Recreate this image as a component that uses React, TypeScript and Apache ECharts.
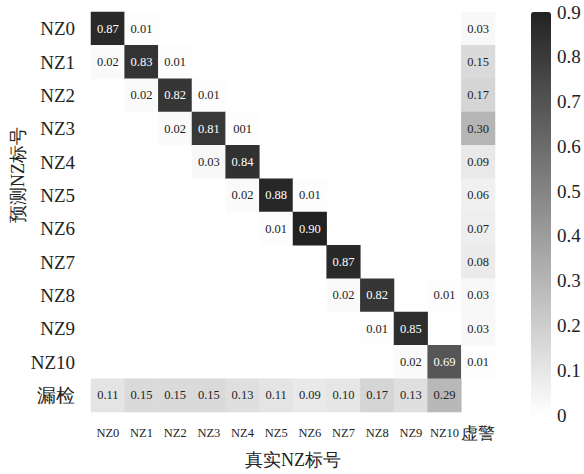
import React, { useEffect, useRef } from "react";
import * as echarts from "echarts";

const trueLabels = ["NZ0", "NZ1", "NZ2", "NZ3", "NZ4", "NZ5", "NZ6", "NZ7", "NZ8", "NZ9", "NZ10", "虚警"];
const predLabels = ["NZ0", "NZ1", "NZ2", "NZ3", "NZ4", "NZ5", "NZ6", "NZ7", "NZ8", "NZ9", "NZ10", "漏检"];

// rows: predicted; columns: true (last column = 虚警)
const rowNZ0 = [0.87, 0.01, null, null, null, null, null, null, null, null, null, 0.03];
const rowNZ1 = [0.02, 0.83, 0.01, null, null, null, null, null, null, null, null, 0.15];
const rowNZ2 = [null, 0.02, 0.82, 0.01, null, null, null, null, null, null, null, 0.17];
const rowNZ3 = [null, null, 0.02, 0.81, 0.01, null, null, null, null, null, null, 0.3];
const rowNZ4 = [null, null, null, 0.03, 0.84, null, null, null, null, null, null, 0.09];
const rowNZ5 = [null, null, null, null, 0.02, 0.88, 0.01, null, null, null, null, 0.06];
const rowNZ6 = [null, null, null, null, null, 0.01, 0.9, null, null, null, null, 0.07];
const rowNZ7 = [null, null, null, null, null, null, null, 0.87, null, null, null, 0.08];
const rowNZ8 = [null, null, null, null, null, null, null, 0.02, 0.82, null, 0.01, 0.03];
const rowNZ9 = [null, null, null, null, null, null, null, null, 0.01, 0.85, null, 0.03];
const rowNZ10 = [null, null, null, null, null, null, null, null, null, 0.02, 0.69, 0.01];
const rowMiss = [0.11, 0.15, 0.15, 0.15, 0.13, 0.11, 0.09, 0.1, 0.17, 0.13, 0.29, null];

// label text as printed in the original (one cell reads "001")
const labelOverrides: Record<string, string> = { "4,3": "001" };

const colorbarTicks = [0, 0.1, 0.2, 0.3, 0.4, 0.5, 0.6, 0.7, 0.8, 0.9];

const rows = [rowNZ0, rowNZ1, rowNZ2, rowNZ3, rowNZ4, rowNZ5, rowNZ6, rowNZ7, rowNZ8, rowNZ9, rowNZ10, rowMiss];

const SERIF = "Liberation Serif";

export default function App() {
  const ref = useRef<HTMLDivElement>(null);
  useEffect(() => {
    if (!ref.current) return;
    const chart = echarts.init(ref.current, undefined, { renderer: "svg" });
    const data: any[] = [];
    rows.forEach((row, r) => {
      row.forEach((v, c) => {
        if (v === null) return;
        data.push({
          value: [c, r, v],
          label: { color: v > 0.5 ? "#ffffff" : "#222222" },
        });
      });
    });
    chart.setOption({
      animation: false,
      backgroundColor: "#ffffff",
      textStyle: { fontFamily: SERIF },
      grid: [
        { left: 91, top: 12, width: 404, height: 403 },
        { left: 531, top: 12, width: 20, height: 403 },
      ],
      xAxis: [
        {
          type: "category",
          data: trueLabels,
          gridIndex: 0,
          axisLine: { show: false },
          axisTick: { show: false },
          splitLine: { show: false },
          axisLabel: {
            interval: 0,
            fontFamily: SERIF,
            fontSize: 12.5,
            color: "#222",
            margin: 21,
            verticalAlign: "middle",
            formatter: (v: string) => (v === "虚警" ? "{big|" + v + "}" : v),
            rich: { big: { fontSize: 17, color: "#222" } },
          },
          name: "真实NZ标号",
          nameLocation: "middle",
          nameGap: 48,
          nameTextStyle: { fontSize: 18, fontFamily: SERIF, color: "#222", verticalAlign: "middle" },
        },
        { type: "value", gridIndex: 1, show: false, min: 0, max: 1 },
      ],
      yAxis: [
        {
          type: "category",
          data: predLabels,
          inverse: true,
          gridIndex: 0,
          axisLine: { show: false },
          axisTick: { show: false },
          splitLine: { show: false },
          axisLabel: { interval: 0, fontFamily: SERIF, fontSize: 19, color: "#222", margin: 16 },
        },
        {
          type: "value",
          gridIndex: 1,
          position: "right",
          min: 0,
          max: 0.9,
          interval: 0.1,
          axisLine: { show: false },
          axisTick: { show: false },
          splitLine: { show: false },
          axisLabel: {
            fontFamily: SERIF,
            fontSize: 19,
            color: "#222",
            margin: 6,
            formatter: (v: number) => {
              const t = colorbarTicks.find((x) => Math.abs(x - v) < 1e-6);
              return t === undefined ? "" : t === 0 ? "0" : t.toFixed(1);
            },
          },
        },
      ],
      visualMap: {
        type: "continuous",
        min: 0,
        max: 0.9,
        seriesIndex: 0,
        orient: "vertical",
        left: 531,
        top: 12,
        padding: 0,
        itemWidth: 20,
        itemHeight: 403,
        calculable: false,
        showLabel: false,
        text: ["", ""],
        inRange: { color: ["#ffffff", "#222222"] },
      },
      graphic: [
        {
          type: "text",
          x: 18,
          y: 175,
          rotation: Math.PI / 2,
          style: {
            text: "预测NZ标号",
            fontSize: 18,
            fontFamily: SERIF,
            fill: "#222",
            textAlign: "center",
            textVerticalAlign: "middle",
          },
        },
      ],
      series: [
        {
          type: "heatmap",
          xAxisIndex: 0,
          yAxisIndex: 0,
          data,
          label: {
            show: true,
            fontFamily: SERIF,
            fontSize: 12.5,
            formatter: (p: any) => {
              const key = p.value[0] + "," + p.value[1];
              return labelOverrides[key] ?? (p.value[2] as number).toFixed(2);
            },
          },
          itemStyle: { borderWidth: 0 },
          emphasis: { disabled: true },
        },
      ],
    });
    return () => chart.dispose();
  }, []);
  return <div ref={ref} style={{ position: "absolute", left: 0, top: 0, width: 584, height: 474 }} />;
}
